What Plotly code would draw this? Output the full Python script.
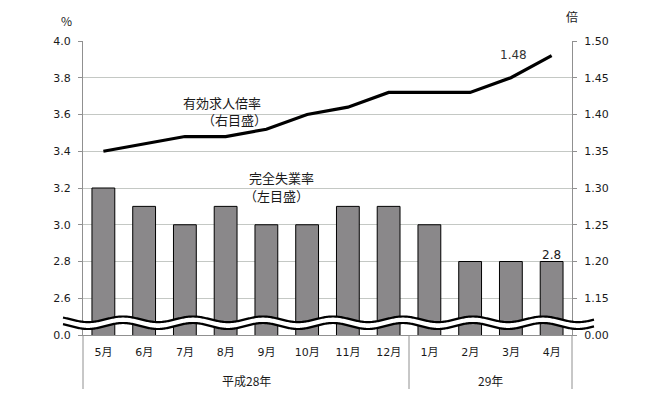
import numpy as np
import plotly.graph_objects as go

months = ["5月", "6月", "7月", "8月", "9月", "10月", "11月", "12月", "1月", "2月", "3月", "4月"]
unemployment = [3.2, 3.1, 3.0, 3.1, 3.0, 3.0, 3.1, 3.1, 3.0, 2.8, 2.8, 2.8]
job_ratio = [1.35, 1.36, 1.37, 1.37, 1.38, 1.40, 1.41, 1.43, 1.43, 1.43, 1.45, 1.48]
left_ticks = [2.4, 2.6, 2.8, 3.0, 3.2, 3.4, 3.6, 3.8, 4.0]
left_text = ["0.0", "2.6", "2.8", "3.0", "3.2", "3.4", "3.6", "3.8", "4.0"]
right_ticks = [1.10, 1.15, 1.20, 1.25, 1.30, 1.35, 1.40, 1.45, 1.50]
right_text = ["0.00", "1.15", "1.20", "1.25", "1.30", "1.35", "1.40", "1.45", "1.50"]
groups = ["平成28年", "29年"]

# page-space plot area (the page body has an 8px margin)
OFF = 8
PL, PR, PT, PB = 83, 572, 41, 335
W, H = 650 - OFF, 396 - OFF
L, T = PL - OFF, PT - OFF
R, B = W - (PR - OFF), H - (PB - OFF)
pw, ph = PR - PL, PB - PT

def px(x):
    return (x - PL) / pw

def py(y):
    return (PB - y) / ph

NUM = "Verdana, DejaVu Sans, Noto Sans CJK JP"
JP = "Noto Sans CJK JP, Meiryo, sans-serif"
TXT = "#1a1a1a"

fig = go.Figure()
fig.add_trace(go.Bar(
    x=months, y=unemployment, yaxis="y",
    marker=dict(color="#8a888a", line=dict(color="#000000", width=1)),
    width=0.56, hoverinfo="skip",
))
fig.add_trace(go.Scatter(
    x=months, y=job_ratio, yaxis="y2", mode="lines",
    line=dict(color="#000000", width=3.2), hoverinfo="skip",
))

shapes = []
# wavy axis-break band (decoration)
xs = np.arange(63, 595, 1.0)
ang = 2 * np.pi * (xs - 123) / 70.0
up = 319.3 - 2.8 * np.cos(ang)
lo = 326.0 - 3.0 * np.cos(ang)
def pth(xa, ya):
    return "M " + " L ".join(f"{px(a):.5f},{py(b):.5f}" for a, b in zip(xa, ya))
band = pth(np.concatenate([xs, xs[::-1]]), np.concatenate([up, lo[::-1]])) + " Z"
shapes.append(dict(type="path", xref="paper", yref="paper", path=band,
                   fillcolor="white", line=dict(width=0), layer="above"))
shapes.append(dict(type="path", xref="paper", yref="paper", path=pth(xs, up),
                   line=dict(color="black", width=2.2), layer="above"))
shapes.append(dict(type="path", xref="paper", yref="paper", path=pth(xs, lo),
                   line=dict(color="black", width=2.2), layer="above"))
# axis extensions and group separator
for xv in [0, 1]:
    shapes.append(dict(type="line", xref="paper", yref="paper", x0=xv, x1=xv,
                       y0=0, y1=py(389), line=dict(color="#909090", width=1)))
shapes.append(dict(type="line", xref="x", yref="paper", x0=7.5, x1=7.5,
                   y0=0, y1=py(389), line=dict(color="#909090", width=1)))

def note(text, x, y, size=13, family=JP, color=TXT, **kw):
    d = dict(text=text, x=x, y=y, xref="paper", yref="paper", showarrow=False,
             xanchor="center", yanchor="middle",
             font=dict(family=family, size=size, color=color))
    d.update(kw)
    return d

annotations = [
    note("%", px(66), py(20), size=12),
    note("倍", px(572), py(17), size=12),
    note("有効求人倍率", px(222), py(102)),
    note("（右目盛）", px(234), py(120)),
    note("完全失業率", px(281), py(177)),
    note("（左目盛）", px(276), py(195)),
    note(f"{job_ratio[-1]:.2f}", months[-1], job_ratio[-1], size=12, family=NUM, color="#333",
         xref="x", yref="y2", xshift=-38, yshift=1),
    note(f"{unemployment[-1]:.1f}", months[-1], unemployment[-1], size=12, family=NUM,
         xref="x", yref="y", yshift=7),
    note(groups[0], 3.5, py(380), size=12, xref="x"),
    note(groups[1], 9.5, py(380), size=12, xref="x"),
]

fig.update_layout(
    width=W, height=H, autosize=False,
    margin=dict(l=L, r=R, t=T, b=B, autoexpand=False),
    paper_bgcolor="white", plot_bgcolor="white",
    showlegend=False,
    bargap=0.44,
    xaxis=dict(type="category", categoryorder="array", categoryarray=months,
               showline=True, linecolor="#909090", linewidth=1,
               ticks="outside", ticklen=7, tickcolor="rgba(0,0,0,0)",
               tickfont=dict(family=NUM, size=11, color=TXT),
               showgrid=False, zeroline=False, fixedrange=True),
    yaxis=dict(range=[2.4, 4.0], tickvals=left_ticks, ticktext=left_text,
               showgrid=True, gridcolor="#c4c8c4", gridwidth=1,
               showline=True, linecolor="#909090", linewidth=1,
               ticks="outside", ticklen=4, tickcolor="#909090",
               ticklabelstandoff=5,
               tickfont=dict(family=NUM, size=11, color=TXT),
               zeroline=False, fixedrange=True),
    yaxis2=dict(range=[1.10, 1.50], tickvals=right_ticks, ticktext=right_text,
                overlaying="y", side="right", showgrid=False,
                showline=True, linecolor="#909090", linewidth=1,
                ticks="outside", ticklen=4, tickcolor="#909090",
                ticklabelstandoff=5,
                tickfont=dict(family=NUM, size=11, color=TXT),
                zeroline=False, fixedrange=True),
    shapes=shapes,
    annotations=annotations,
)

fig.write_html("out.html")
